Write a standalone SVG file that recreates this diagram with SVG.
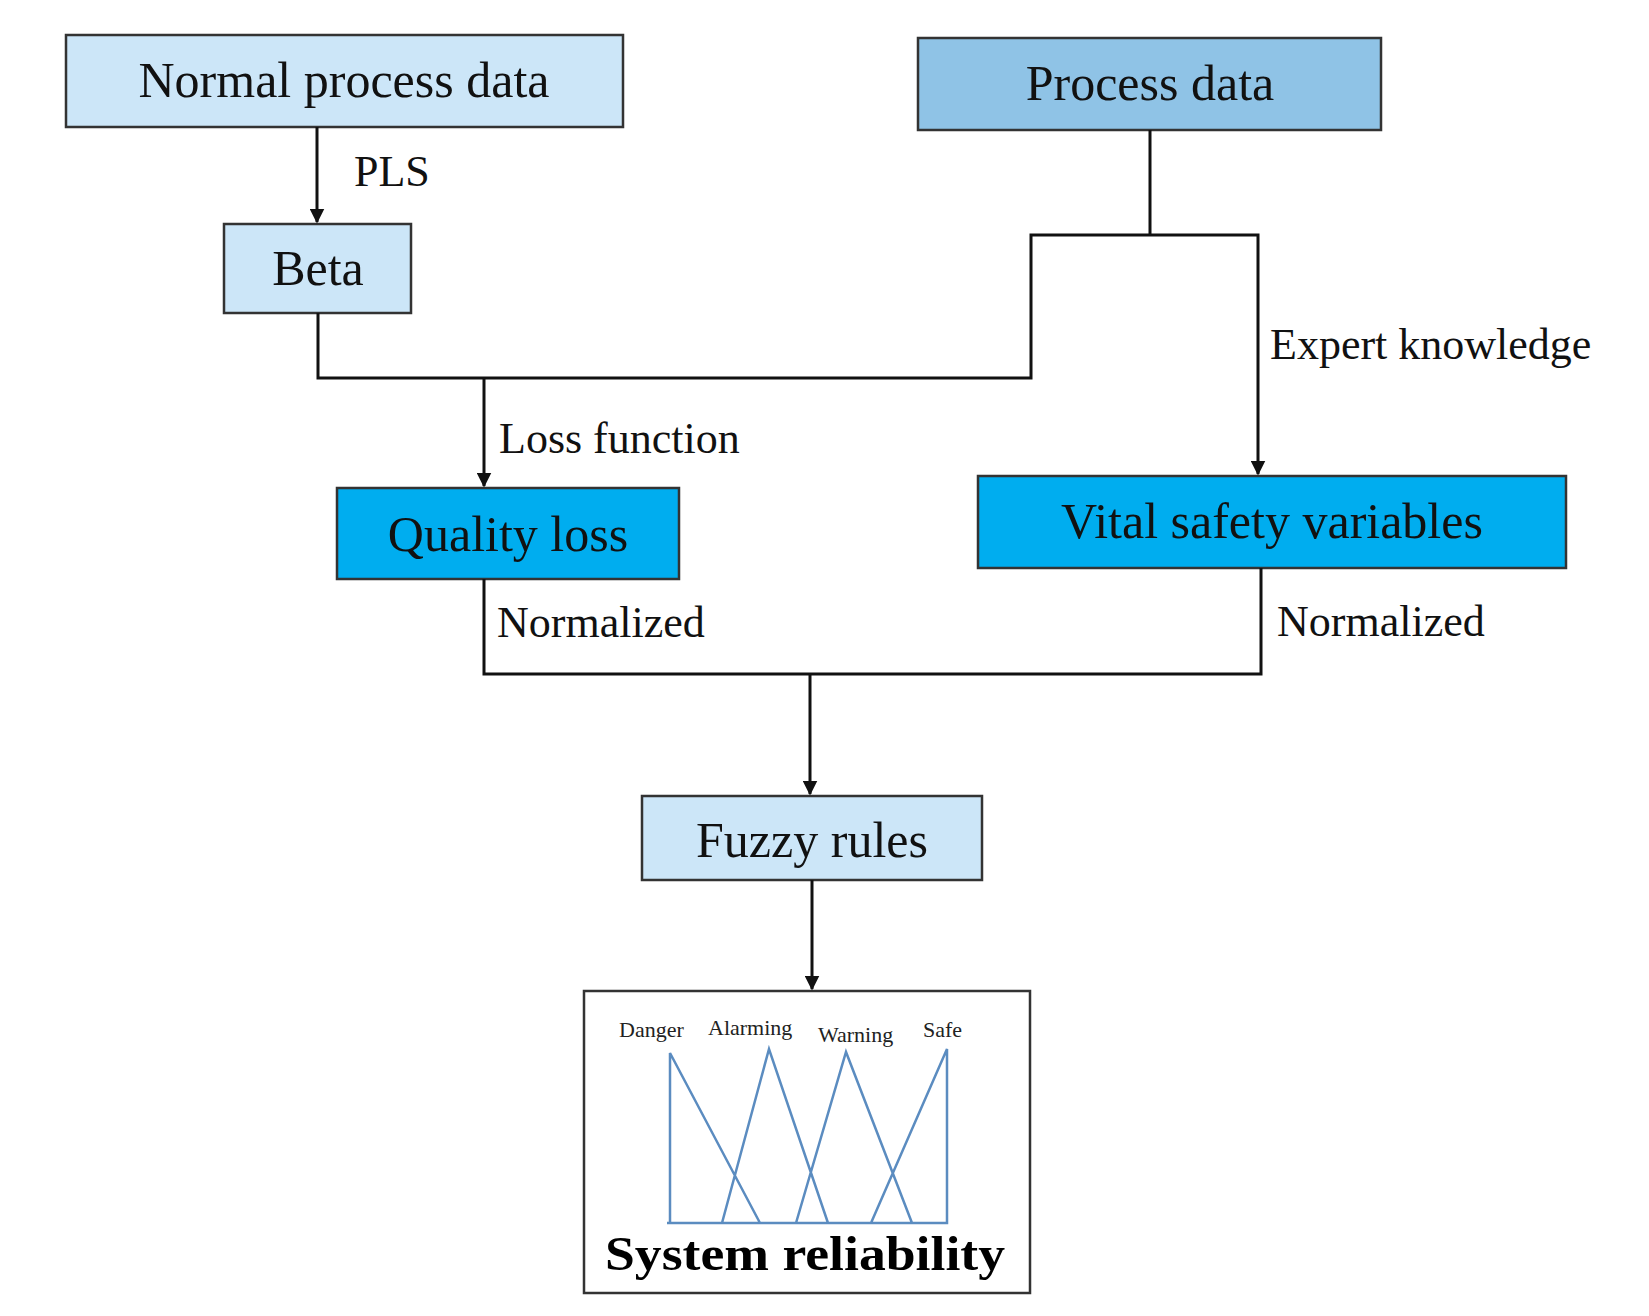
<svg xmlns="http://www.w3.org/2000/svg" width="1649" height="1316" viewBox="0 0 1649 1316">
<style>
.b{stroke:#333;stroke-width:2.5}
.t{font-family:"Liberation Serif",serif;font-size:50px;fill:#111;text-anchor:middle}
.l{font-family:"Liberation Serif",serif;font-size:44px;fill:#111}
.s{font-family:"Liberation Serif",serif;font-size:22px;fill:#222}
.c{fill:none;stroke:#111;stroke-width:3}
.m{fill:none;stroke:#5b8cc0;stroke-width:2.5}
</style>
<defs><marker id="a" viewBox="0 0 10 10" refX="9" refY="5" markerWidth="5" markerHeight="5" orient="auto"><path d="M0 0L10 5L0 10z" fill="#111"/></marker></defs>
<rect width="1649" height="1316" fill="#fff"/>
<g id="n1"><rect class="b" x="66" y="35" width="557" height="92" fill="#cce6f8"/><text class="t" x="344" y="97">Normal process data</text></g>
<g id="n2"><rect class="b" x="918" y="38" width="463" height="92" fill="#8fc3e6"/><text class="t" x="1150" y="100">Process data</text></g>
<g id="n3"><rect class="b" x="224" y="224" width="187" height="89" fill="#cce6f8"/><text class="t" x="318" y="285">Beta</text></g>
<g id="n4"><rect class="b" x="337" y="488" width="342" height="91" fill="#00adef"/><text class="t" x="508" y="551">Quality loss</text></g>
<g id="n5"><rect class="b" x="978" y="476" width="588" height="92" fill="#00adef"/><text class="t" x="1272" y="538">Vital safety variables</text></g>
<g id="n6"><rect class="b" x="642" y="796" width="340" height="84" fill="#cce6f8"/><text class="t" x="812" y="857">Fuzzy rules</text></g>
<g id="n7"><rect x="584" y="991" width="446" height="302" fill="#fff" stroke="#333" stroke-width="2.5"/>
<path class="m" d="M667 1223H947V1049L871 1223M670 1223V1053L760 1223M722 1223L769 1049L828 1223M796 1223L846 1052L912 1223"/>
<text class="s" x="619" y="1037">Danger</text><text class="s" x="708" y="1035">Alarming</text><text class="s" x="818" y="1042">Warning</text><text class="s" x="923" y="1037">Safe</text>
<text x="805" y="1270" font-family="Liberation Serif,serif" font-size="48" font-weight="bold" text-anchor="middle" textLength="400" lengthAdjust="spacingAndGlyphs">System reliability</text></g>
<g id="connectors">
<path class="c" d="M317 127V222" marker-end="url(#a)"/>
<path class="c" d="M318 313V378H1031V235H1258V474" marker-end="url(#a)"/>
<path class="c" d="M1150 130V235"/>
<path class="c" d="M484 378V486" marker-end="url(#a)"/>
<path class="c" d="M484 579V674H1261V568"/>
<path class="c" d="M810 674V794" marker-end="url(#a)"/>
<path class="c" d="M812 880V989" marker-end="url(#a)"/>
<text class="l" x="354" y="186">PLS</text>
<text class="l" x="499" y="453">Loss function</text>
<text class="l" x="1270" y="359">Expert knowledge</text>
<text class="l" x="497" y="637">Normalized</text>
<text class="l" x="1277" y="636">Normalized</text>
</g>
</svg>
